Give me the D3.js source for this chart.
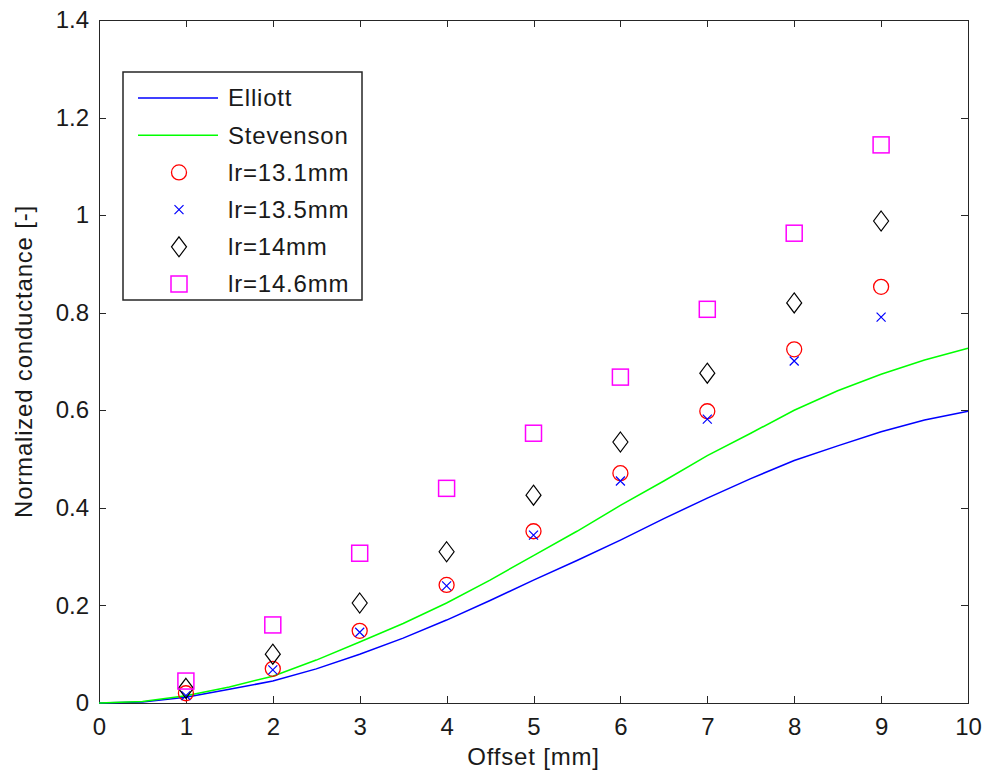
<!DOCTYPE html>
<meta charset="utf-8">
<style>
body { margin: 0; background: #fff; font-family: "Liberation Sans", Arial, sans-serif; }
.axis path, .axis line { fill: none; stroke: #262626; stroke-width: 1; shape-rendering: crispEdges; }
.axis text { font-size: 24px; fill: #1a1a1a; font-family: "Liberation Sans", Arial, sans-serif; }
.lab { font-size: 24px; fill: #1a1a1a; letter-spacing: 0.8px; }
</style>
<body>
<script src="https://cdn.jsdelivr.net/npm/d3@7"></script>
<script>

// curves
var curveX = [0, 0.5, 1, 1.5, 2, 2.5, 3, 3.5, 4, 4.5, 5, 5.5, 6, 6.5, 7, 7.5, 8, 8.5, 9, 9.5, 10];
var elliott = [0, 0.002, 0.012, 0.028, 0.045, 0.07, 0.10, 0.133, 0.17, 0.21, 0.252, 0.292, 0.334, 0.378, 0.42, 0.46, 0.497, 0.527, 0.556, 0.58, 0.598];
var stevenson = [0, 0.003, 0.015, 0.033, 0.055, 0.088, 0.125, 0.163, 0.205, 0.252, 0.302, 0.352, 0.405, 0.455, 0.507, 0.553, 0.60, 0.64, 0.674, 0.703, 0.727];

// measured points
var offsets = [1, 2, 3, 4, 5, 6, 7, 8, 9];
var lr131 = [0.02, 0.07, 0.148, 0.242, 0.352, 0.471, 0.598, 0.725, 0.853];
var lr135 = [0.015, 0.068, 0.145, 0.24, 0.344, 0.455, 0.582, 0.701, 0.791];
var lr14 = [0.03, 0.10, 0.205, 0.31, 0.426, 0.535, 0.676, 0.82, 0.988];
var lr146 = [0.045, 0.16, 0.307, 0.44, 0.553, 0.668, 0.807, 0.963, 1.144];

var xTicks = [0, 1, 2, 3, 4, 5, 6, 7, 8, 9, 10];
var yTicks = [0, 0.2, 0.4, 0.6, 0.8, 1, 1.2, 1.4];

var W = 985, H = 776;
var margin = {left: 99, top: 20, right: 17, bottom: 73};
var width = W - margin.left - margin.right,
    height = H - margin.top - margin.bottom;

var x = d3.scaleLinear().domain([0, 10]).range([0, width]);
var y = d3.scaleLinear().domain([0, 1.4]).range([height, 0]);

var svg = d3.select("body").append("svg")
    .attr("width", W).attr("height", H)
  .append("g")
    .attr("transform", "translate(" + margin.left + "," + margin.top + ")");

function fmt(d) { return d3.format("")(+d.toFixed(1)); }

svg.append("g").attr("class", "x axis")
  .attr("transform", "translate(0," + height + ")")
  .call(d3.axisBottom(x).tickValues(xTicks).tickSize(-7).tickPadding(15).tickFormat(fmt));
svg.append("g").attr("class", "x axis")
  .call(d3.axisTop(x).tickValues(xTicks).tickSize(-7).tickFormat(""));
svg.append("g").attr("class", "y axis")
  .call(d3.axisLeft(y).tickValues(yTicks).tickSize(-7).tickPadding(10).tickFormat(fmt));
svg.append("g").attr("class", "y axis")
  .attr("transform", "translate(" + width + ",0)")
  .call(d3.axisRight(y).tickValues(yTicks).tickSize(-7).tickFormat(""));
svg.selectAll(".axis .domain").attr("stroke-width", 1.5);

var line = d3.line()
  .x(function(d) { return x(d[0]); })
  .y(function(d) { return y(d[1]); });

svg.append("path").datum(d3.zip(curveX, elliott))
  .attr("d", line).attr("fill", "none").attr("stroke", "#0000ff").attr("stroke-width", 1.5);
svg.append("path").datum(d3.zip(curveX, stevenson))
  .attr("d", line).attr("fill", "none").attr("stroke", "#00ff00").attr("stroke-width", 1.5);

var markers = {
  circle: function(g) { g.append("circle").attr("r", 7.5).attr("fill", "none").attr("stroke", "#ff0000").attr("stroke-width", 1.3); },
  cross: function(g) { g.append("path").attr("d", "M-4.5,-4.5L4.5,4.5M-4.5,4.5L4.5,-4.5").attr("stroke", "#0000ff").attr("stroke-width", 1.2); },
  diamond: function(g) { g.append("path").attr("d", "M0,-10L7.5,0L0,10L-7.5,0Z").attr("fill", "none").attr("stroke", "#000").attr("stroke-width", 1.2); },
  square: function(g) { g.append("rect").attr("x", -8).attr("y", -8).attr("width", 16).attr("height", 16).attr("fill", "none").attr("stroke", "#ff00ff").attr("stroke-width", 1.5); }
};

var series = [
  {name: "lr=13.1mm", vals: lr131, m: "circle"},
  {name: "lr=13.5mm", vals: lr135, m: "cross"},
  {name: "lr=14mm", vals: lr14, m: "diamond"},
  {name: "lr=14.6mm", vals: lr146, m: "square"}
];

series.forEach(function(s) {
  offsets.forEach(function(o, i) {
    var g = svg.append("g").attr("transform", "translate(" + x(o) + "," + y(s.vals[i]) + ")");
    markers[s.m](g);
  });
});

// legend
var leg = svg.append("g").attr("transform", "translate(24,52)");
leg.append("rect").attr("width", 239).attr("height", 228)
  .attr("fill", "#fff").attr("stroke", "#262626").attr("stroke-width", 1.5);
var entries = [
  {name: "Elliott", line: "#0000ff"},
  {name: "Stevenson", line: "#00ff00"}
].concat(series);
entries.forEach(function(e, i) {
  var ey = 26 + i * 37.2;
  var g = leg.append("g").attr("transform", "translate(0," + ey + ")");
  if (e.line) {
    g.append("line").attr("x1", 15).attr("x2", 95).attr("stroke", e.line).attr("stroke-width", 1.5);
  } else {
    var mg = g.append("g").attr("transform", "translate(56,0)");
    markers[e.m](mg);
  }
  g.append("text").attr("class", "lab").attr("x", 105).attr("dy", "0.35em").text(e.name);
});

svg.append("text").attr("class", "lab")
  .attr("x", width / 2).attr("y", height + 62)
  .attr("text-anchor", "middle").text("Offset [mm]");
svg.append("text").attr("class", "lab")
  .attr("transform", "translate(-67," + (height / 2) + ") rotate(-90)")
  .attr("text-anchor", "middle").text("Normalized conductance [-]");

</script>
</body>
